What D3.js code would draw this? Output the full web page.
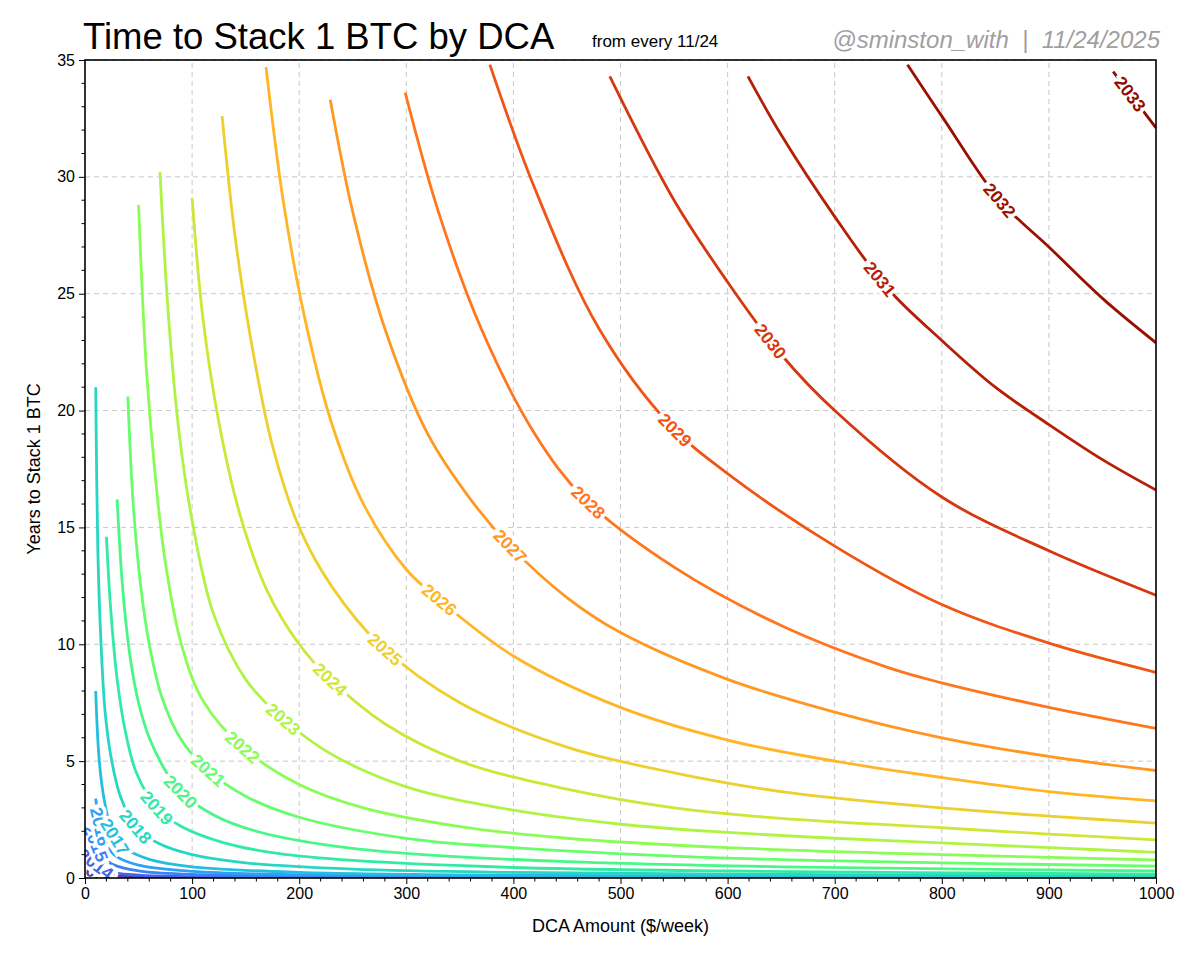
<!DOCTYPE html>
<html>
<head>
<meta charset="utf-8">
<script src="https://cdn.jsdelivr.net/npm/d3@7"></script>
<style>
  body { margin: 0; background: #fff; }
  svg text { font-family: "Liberation Sans", Arial, sans-serif; }
</style>
</head>
<body>
<div id="chart"></div>
<script>
// start years of each contour
const years = [2013, 2014, 2015, 2016, 2017, 2018, 2019, 2020, 2021, 2022, 2023,
               2024, 2025, 2026, 2027, 2028, 2029, 2030, 2031, 2032, 2033];

// [DCA $/week, years to stack 1 BTC]
const curves = {
  2013: [[10,0.25],[20,0.12],[50,0.05],[100,0.025],[1000,0.005]],
  2014: [[10,0.6],[20,0.3],[50,0.12],[100,0.06],[1000,0.01]],
  2015: [[10,1.5],[15,1.0],[25,0.6],[50,0.3],[100,0.15],[300,0.05],[1000,0.02]],
  2016: [[10,3.4],[14,2.2],[20,1.4],[30,0.9],[50,0.55],[100,0.28],[200,0.14],[500,0.06],[1000,0.03]],
  2017: [[10,8],[13,5.2],[17,3.6],[22,2.5],[28,1.75],[40,1.2],[60,0.8],[100,0.48],[200,0.24],[400,0.12],[1000,0.05]],
  2018: [[10,21],[12,14],[15,10],[19,7],[25,5],[33,3.5],[47,2.2],[70,1.45],[100,1.0],[150,0.65],[250,0.38],[400,0.24],[650,0.15],[1000,0.1]],
  2019: [[20,14.6],[24,11.5],[30,8.5],[38,6.2],[48,4.5],[67,3.0],[90,2.2],[130,1.5],[180,1.05],[250,0.75],[400,0.45],[600,0.3],[1000,0.17]],
  2020: [[30,16.2],[35,12.5],[42,9.5],[50,7.5],[60,6.0],[75,4.6],[89,3.7],[120,2.7],[160,2.0],[220,1.45],[300,1.05],[450,0.7],[650,0.48],[1000,0.3]],
  2021: [[40,20.6],[45,16],[52,12.5],[60,10],[72,7.7],[90,5.9],[115,4.6],[150,3.5],[200,2.6],[300,1.7],[400,1.3],[600,0.85],[800,0.65],[1000,0.51]],
  2022: [[50,28.8],[57,22],[65,17.5],[75,13.5],[90,10.0],[110,7.6],[147,5.6],[200,4.0],[260,3.0],[350,2.2],[450,1.7],[600,1.3],[800,1.0],[1000,0.77]],
  2023: [[70,30.2],[78,24],[88,19],[100,15.3],[120,11.3],[150,8.5],[185,6.8],[230,5.3],[300,3.9],[400,2.9],[500,2.3],[600,1.95],[700,1.7],[800,1.5],[900,1.3],[1000,1.1]],
  2024: [[100,29.1],[110,24],[125,19.5],[145,15.5],[170,12.3],[200,10.0],[229,8.5],[280,6.6],[350,5.0],[450,3.8],[550,3.0],[650,2.55],[800,2.15],[900,1.88],[1000,1.63]],
  2025: [[128,32.6],[140,27.5],[155,23],[175,18.5],[200,15.0],[230,12.5],[275,10.0],[350,7.5],[450,5.6],[550,4.5],[650,3.7],[800,3.0],[900,2.65],[1000,2.35]],
  2026: [[169,34.7],[185,29],[205,24],[230,19.5],[260,16],[300,13.2],[331,11.9],[400,9.5],[500,7.3],[600,5.9],[700,5.0],[800,4.3],[900,3.7],[1000,3.3]],
  2027: [[229,33.3],[250,28.5],[280,23.5],[320,19.0],[360,16.2],[397,14.2],[450,12.0],[500,10.5],[600,8.5],[700,7.1],[800,6.0],[900,5.2],[1000,4.6]],
  2028: [[299,33.6],[330,28.5],[370,23.5],[420,19.0],[467,16.2],[550,13.3],[650,10.8],[750,9.0],[800,8.35],[900,7.3],[1000,6.4]],
  2029: [[378,34.8],[420,29.5],[480,23.5],[546,19.4],[600,17.3],[700,14.2],[800,11.7],[900,10.05],[1000,8.8]],
  2030: [[490,34.3],[550,29.0],[600,25.5],[650,22.4],[700,20.0],[800,16.3],[900,14.0],[1000,12.1]],
  2031: [[619,34.3],[650,31.8],[700,28.3],[750,25.2],[800,23.0],[850,21.0],[900,19.4],[950,17.9],[1000,16.6]],
  2032: [[768,34.8],[800,32.6],[854,29.0],[900,27.0],[950,24.8],[1000,22.9]],
  2033: [[960,34.5],[980,33.3],[1000,32.1]]
};

// x position (DCA) where each inline label sits
const labelAt = {
  2013: 4, 2014: 6, 2015: 9, 2016: 14, 2017: 28, 2018: 47, 2019: 67, 2020: 89,
  2021: 115, 2022: 147, 2023: 185, 2024: 229, 2025: 280, 2026: 331, 2027: 397,
  2028: 470, 2029: 551, 2030: 640, 2031: 742, 2032: 854, 2033: 976
};

const xTicks = d3.range(0, 1001, 100);
const yTicks = d3.range(0, 36, 5);

const width = 1200, height = 960;
const margin = { top: 60, right: 44, bottom: 82, left: 85 };

const svg = d3.select("#chart").append("svg")
  .attr("width", width).attr("height", height);

const x = d3.scaleLinear().domain([0, 1000]).range([margin.left, width - margin.right]);
const y = d3.scaleLinear().domain([0, 35]).range([height - margin.bottom, margin.top]);

const color = yr => d3.interpolateTurbo(0.3 + (yr - 2018) * 0.7 / 15);

// grid
svg.append("g").selectAll("line").data(xTicks.slice(1, -1)).join("line")
  .attr("x1", d => x(d)).attr("x2", d => x(d))
  .attr("y1", y(0)).attr("y2", y(35))
  .attr("stroke", "#c8c8c8").attr("stroke-dasharray", "5,4");
svg.append("g").selectAll("line").data(yTicks.slice(1)).join("line")
  .attr("x1", x(0)).attr("x2", x(1000))
  .attr("y1", d => y(d)).attr("y2", d => y(d))
  .attr("stroke", "#c8c8c8").attr("stroke-dasharray", "5,4");

svg.append("clipPath").attr("id", "clip").append("rect")
  .attr("x", x(0)).attr("y", y(35)).attr("width", x(1000) - x(0)).attr("height", y(0) - y(35));

const line = d3.line().x(d => x(d[0])).y(d => y(d[1])).curve(d3.curveCatmullRom.alpha(0.5));

const plot = svg.append("g").attr("clip-path", "url(#clip)");
const paths = plot.selectAll("path.c").data(years).join("path")
  .attr("class", "c")
  .attr("d", yr => line(curves[yr]))
  .attr("fill", "none")
  .attr("stroke", yr => color(yr))
  .attr("stroke-width", 2.8);

// inline labels
paths.each(function (yr) {
  const p = this, L = p.getTotalLength();
  const tx = x(labelAt[yr]);
  let best = 0, bd = Infinity;
  for (let s = 0; s <= L; s += 0.5) {
    const pt = p.getPointAtLength(s);
    if (Math.abs(pt.x - tx) < bd) { bd = Math.abs(pt.x - tx); best = s; }
  }
  const a = p.getPointAtLength(Math.max(0, best - 8));
  const b = p.getPointAtLength(Math.min(L, best + 8));
  const c = p.getPointAtLength(best);
  const ang = Math.atan2(b.y - a.y, b.x - a.x) * 180 / Math.PI;
  plot.append("text")
    .attr("transform", `translate(${c.x},${c.y}) rotate(${ang})`)
    .attr("text-anchor", "middle").attr("dy", "0.35em")
    .attr("font-size", 17.5).attr("font-weight", "bold")
    .attr("fill", color(yr))
    .attr("stroke", "#fff").attr("stroke-width", 7)
    .attr("paint-order", "stroke")
    .text(yr);
});

// axes
const xAxis = d3.axisBottom(x).tickValues(xTicks).tickFormat(d3.format("d")).tickSize(6).tickPadding(4);
const yAxis = d3.axisLeft(y).tickValues(yTicks).tickSize(6).tickPadding(4);
const gx = svg.append("g").attr("transform", `translate(0,${y(0)})`).call(xAxis);
const gy = svg.append("g").attr("transform", `translate(${x(0)},0)`).call(yAxis);
[gx, gy].forEach(g => {
  g.select(".domain").remove();
  g.selectAll("text").attr("font-size", 16).attr("fill", "#000")
    .style("font-family", "Liberation Sans, Arial, sans-serif");
});
svg.append("g").selectAll("line").data(d3.range(0, 1001, 20).filter(d => d % 100)).join("line")
  .attr("x1", d => x(d)).attr("x2", d => x(d)).attr("y1", y(0)).attr("y2", y(0) + 3.5)
  .attr("stroke", "#000");
svg.append("g").selectAll("line").data(d3.range(0, 36, 1).filter(d => d % 5)).join("line")
  .attr("x1", x(0)).attr("x2", x(0) - 3.5).attr("y1", d => y(d)).attr("y2", d => y(d))
  .attr("stroke", "#000");

svg.append("rect")
  .attr("x", x(0)).attr("y", y(35)).attr("width", x(1000) - x(0)).attr("height", y(0) - y(35))
  .attr("fill", "none").attr("stroke", "#000").attr("stroke-width", 1.6);

// labels
svg.append("text").attr("x", (x(0) + x(1000)) / 2).attr("y", 932)
  .attr("text-anchor", "middle").attr("font-size", 18).text("DCA Amount ($/week)");
svg.append("text").attr("transform", `translate(40,${(y(0) + y(35)) / 2}) rotate(-90)`)
  .attr("text-anchor", "middle").attr("font-size", 18).text("Years to Stack 1 BTC");

svg.append("text").attr("x", 83).attr("y", 49).attr("font-size", 36.5).text("Time to Stack 1 BTC by DCA");
svg.append("text").attr("x", 592).attr("y", 47).attr("font-size", 17).text("from every 11/24");
svg.append("text").attr("x", 1160).attr("y", 48).attr("text-anchor", "end")
  .attr("font-size", 24).attr("font-style", "italic").attr("fill", "#a0a0a0")
  .attr("xml:space", "preserve")
  .text("@sminston_with  |  11/24/2025");
</script>
</body>
</html>
